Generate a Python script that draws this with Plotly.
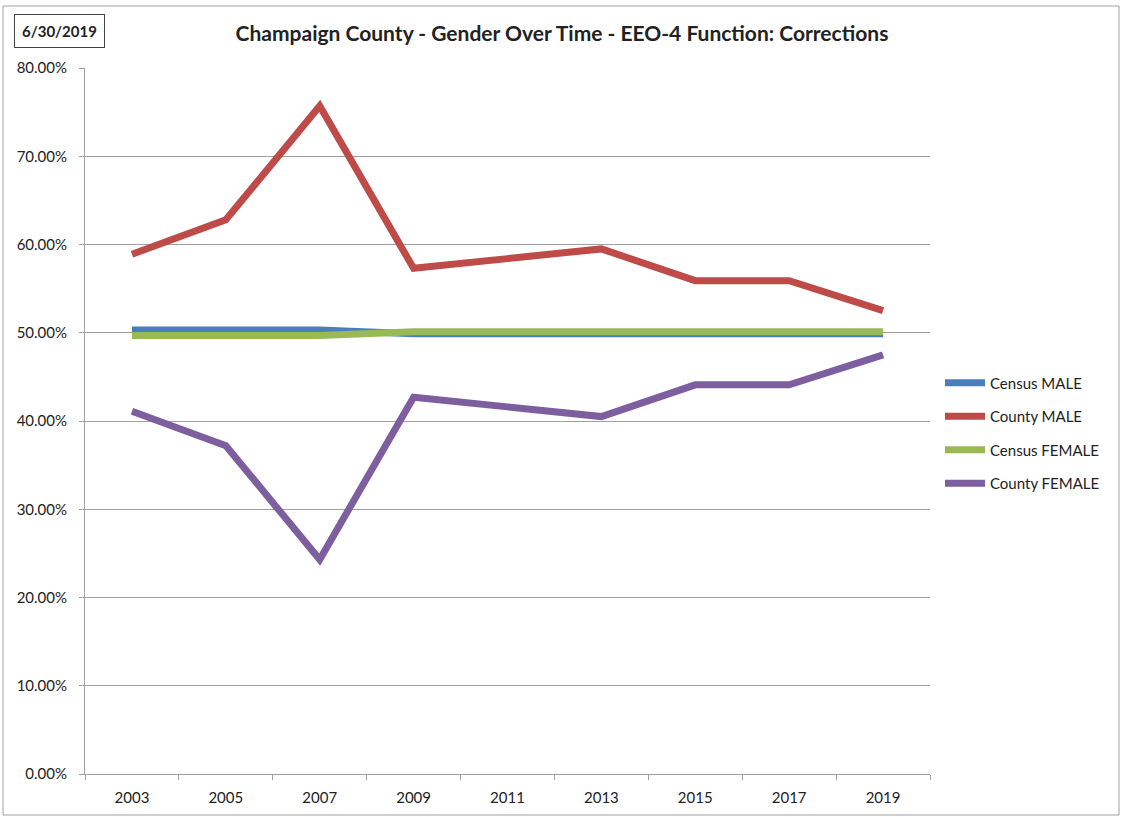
import plotly.graph_objects as go

# --- data ---
years = ["2003", "2005", "2007", "2009", "2011", "2013", "2015", "2017", "2019"]
census_male = [0.503, 0.503, 0.503, 0.499, 0.499, 0.499, 0.499, 0.499, 0.499]
county_male = [0.589, 0.628, 0.757, 0.573, 0.584, 0.595, 0.559, 0.559, 0.525]
census_female = [0.497, 0.497, 0.497, 0.501, 0.501, 0.501, 0.501, 0.501, 0.501]
county_female = [0.411, 0.372, 0.243, 0.427, 0.416, 0.405, 0.441, 0.441, 0.475]

series = [
    ("Census MALE", census_male, "#4a7ebb"),
    ("County MALE", county_male, "#be4b48"),
    ("Census FEMALE", census_female, "#98b954"),
    ("County FEMALE", county_female, "#7d5fa0"),
]

W, H = 1121, 817
L, R, T, B = 85, 191, 68, 43
pw, ph = W - L - R, H - T - B

fig = go.Figure()
for name, vals, col in series:
    fig.add_trace(go.Scatter(
        x=years, y=vals, name=name, mode="lines", legendgroup=name,
        line=dict(color=col, width=7),
    ))

font = "Lato, Open Sans, sans-serif"

fig.update_layout(
    width=W, height=H,
    margin=dict(l=L, r=R, t=T, b=B),
    plot_bgcolor="white", paper_bgcolor="white",
    font=dict(family=font, size=15, color="#222"),
    title=dict(
        text="<b>Champaign County - Gender Over Time - EEO-4 Function: Corrections</b>",
        x=562 / W, xanchor="center", y=1 - 34 / H, yanchor="middle",
        font=dict(size=21, color="#222"),
    ),
    showlegend=True,
    legend=dict(
        x=(940 - L) / pw, xanchor="left", y=(H - B - 433) / ph, yanchor="middle",
        font=dict(size=15, color="#222"), tracegroupgap=11,
        itemwidth=40,
    ),
    xaxis=dict(
        type="category", range=[-0.5, 8.5],
        tickson="boundaries", ticks="outside", ticklen=5, tickcolor="#a0a0a0",
        showline=True, linecolor="#a0a0a0", linewidth=1,
        showgrid=False, tickfont=dict(size=15), ticklabelstandoff=10,
    ),
    yaxis=dict(
        range=[0, 0.8], dtick=0.1, tickformat=".2%",
        ticks="outside", ticklen=5, tickcolor="#a0a0a0",
        showline=True, linecolor="#a0a0a0", linewidth=1,
        showgrid=True, gridcolor="#a0a0a0", gridwidth=1,
        zeroline=False, tickfont=dict(size=15), ticklabelstandoff=9,
    ),
)

# outer chart border
fig.add_shape(
    type="rect", xref="paper", yref="paper",
    x0=(3 - L) / pw, x1=(1119 - L) / pw,
    y0=(H - B - 815) / ph, y1=(H - B - 6) / ph,
    line=dict(color="#a0a0a0", width=1), layer="below",
)

# date box
fig.add_annotation(
    text="<b>6/30/2019</b>", xref="paper", yref="paper",
    x=(59 - L) / pw, y=(H - B - 31) / ph, xanchor="center", yanchor="middle",
    showarrow=False, font=dict(size=15, color="#222"),
    bordercolor="#444", borderwidth=1, borderpad=7, bgcolor="white",
)

fig.write_html(
    "out.html",
    config={"displayModeBar": False},
    post_script="document.body.style.margin='0px';",
)
